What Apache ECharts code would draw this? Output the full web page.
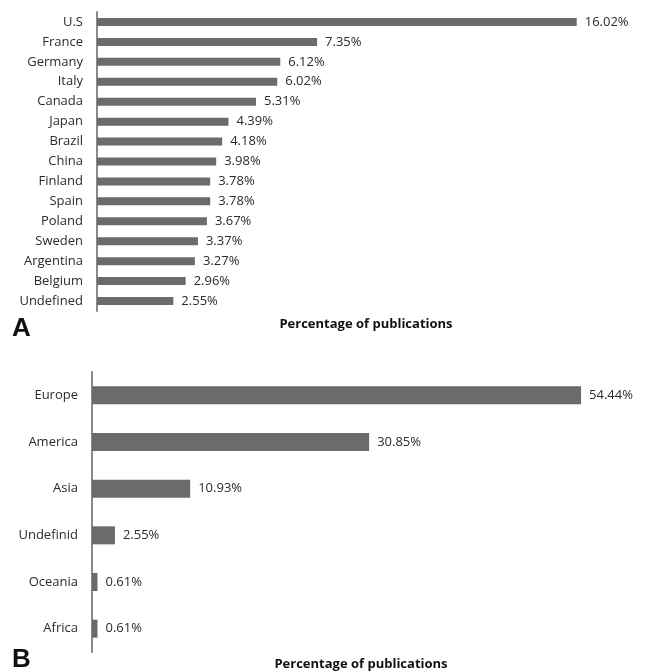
<!DOCTYPE html>
<html><head><meta charset="utf-8">
<script src="https://cdn.jsdelivr.net/npm/echarts@6/dist/echarts.min.js"></script>
<style>html,body{margin:0;padding:0;background:#fff}#c{width:652px;height:671px}</style>
</head><body><div id="c"></div>
<script>
const countries = ['U.S','France','Germany','Italy','Canada','Japan','Brazil','China','Finland','Spain','Poland','Sweden','Argentina','Belgium','Undefined'];
const countryValues = [16.02,7.35,6.12,6.02,5.31,4.39,4.18,3.98,3.78,3.78,3.67,3.37,3.27,2.96,2.55];
const regions = ['Europe','America','Asia','Undefinid','Oceania','Africa'];
const regionValues = [54.44,30.85,10.93,2.55,0.61,0.61];
const axisTitle = 'Percentage of publications';

const FONT = 'Open Sans';
const TXT = '#2b2b2b';
const BAR = '#6b6b6b';
const chart = echarts.init(document.getElementById('c'));
const lbl = {show:true, position:'right', distance:8, color:TXT, fontFamily:FONT, fontSize:13,
  formatter: p => p.value.toFixed(2) + '%'};
const yAx = (data, idx) => ({type:'category', gridIndex:idx, data, inverse:true,
  axisLine:{show:true, lineStyle:{color:'#8a8a8a', width:2}}, axisTick:{show:false},
  axisLabel:{color:TXT, fontFamily:FONT, fontSize:13, margin:14}});
const xAx = (idx, max) => ({type:'value', gridIndex:idx, min:0, max, show:false, splitLine:{show:false}});
chart.setOption({
  animation:false,
  grid:[{left:97, top:12, width:539, height:299},{left:92, top:372, width:539, height:280}],
  xAxis:[xAx(0,18), xAx(1,60)],
  yAxis:[yAx(countries,0), yAx(regions,1)],
  series:[
    {type:'bar', xAxisIndex:0, yAxisIndex:0, data:countryValues, barWidth:8, itemStyle:{color:BAR}, label:lbl},
    {type:'bar', xAxisIndex:1, yAxisIndex:1, data:regionValues, barWidth:18, itemStyle:{color:BAR}, label:lbl}
  ],
  graphic:[
    {type:'text', left:12, top:316, style:{text:'A', font:'bold 26px "Liberation Sans", Arial', fill:'#111'}},
    {type:'text', left:12, top:647, style:{text:'B', font:'bold 26px "Liberation Sans", Arial', fill:'#111'}},
    {type:'text', x:366, y:324, style:{text:axisTitle, textAlign:'center', textVerticalAlign:'middle', font:'bold 13px "Open Sans"', fill:'#111'}},
    {type:'text', x:361, y:664, style:{text:axisTitle, textAlign:'center', textVerticalAlign:'middle', font:'bold 13px "Open Sans"', fill:'#111'}}
  ]
});
</script></body></html>
